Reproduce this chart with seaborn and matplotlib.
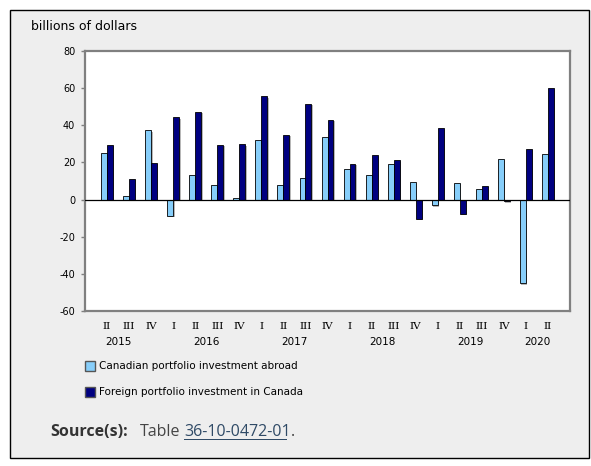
import matplotlib
matplotlib.use("Agg")
import matplotlib.pyplot as plt
import matplotlib.patheffects as pe
from matplotlib.patches import Rectangle
import pandas as pd
import seaborn as sns

# Quarterly flows, billions of dollars (2015 Q2 to 2020 Q2)
quarters = ["II", "III", "IV",
            "I", "II", "III", "IV",
            "I", "II", "III", "IV",
            "I", "II", "III", "IV",
            "I", "II", "III", "IV",
            "I", "II"]
years = ["2015", "2016", "2017", "2018", "2019", "2020"]
year_centres = [0.5, 4.5, 8.5, 12.5, 16.5, 19.5]

abroad = [25.2, 2.1, 37.3, -8.8, 13.1, 8.1, 0.7, 32.0, 7.9, 11.5, 33.9,
          16.4, 13.3, 19.1, 9.4, -3.1, 9.0, 5.8, 21.6, -45.0, 24.3]
foreign = [29.4, 11.3, 19.8, 44.3, 47.4, 29.4, 29.7, 55.7, 34.8, 51.5, 42.9,
           19.1, 23.8, 21.2, -10.3, 38.4, -7.6, 7.4, -1.0, 27.4, 60.0]

series = ["Canadian portfolio investment abroad",
          "Foreign portfolio investment in Canada"]
colours = ["#87CEFA", "#000080"]

W, H = 591, 466


def main():
    sns.set_theme(style="white")
    plt.rcParams["font.family"] = ["DejaVu Sans"]
    plt.rcParams["text.color"] = "black"
    plt.rcParams["xtick.color"] = "black"
    plt.rcParams["ytick.color"] = "black"

    periods = list(range(len(quarters)))
    df = pd.DataFrame({
        "period": periods * 2,
        "value": abroad + foreign,
        "series": [series[0]] * len(abroad) + [series[1]] * len(foreign),
    })

    fig = plt.figure(figsize=(W / 100, H / 100), dpi=100, facecolor="white")

    # Grey panel with a black border
    fig.patches.append(Rectangle((10 / W, 1 - 458 / H), 579 / W, 448 / H,
                                 transform=fig.transFigure, facecolor="#EEEEEE",
                                 edgecolor="black", linewidth=1, zorder=-1))

    ax = fig.add_axes([85 / W, 1 - 311 / H, 485 / W, 260 / H])
    ax.set_facecolor("white")

    sns.barplot(data=df, x="period", y="value", hue="series", order=periods,
                hue_order=series, palette=colours, width=0.54, dodge=True,
                edgecolor="black", linewidth=0.6, saturation=1, legend=False,
                ax=ax)

    shadow = [pe.SimplePatchShadow(offset=(1, -1), shadow_rgbFace="#888888",
                                   alpha=0.6), pe.Normal()]
    for bar in ax.patches:
        bar.set_path_effects(shadow)

    ax.axhline(0, color="black", linewidth=0.9, zorder=5)

    ax.set_xlim(-1, 21)
    ax.set_ylim(-60, 80)
    ax.set_yticks(range(-60, 81, 20))
    ax.set_yticklabels([str(v) for v in range(-60, 81, 20)], fontsize=7)
    ax.set_xticks(periods)
    ax.set_xticklabels(quarters, family="DejaVu Serif", fontsize=7.5)
    ax.set_xlabel("")
    ax.set_ylabel("")

    ax.tick_params(axis="y", direction="out", length=3, width=1,
                   color="#808080", labelcolor="black", pad=4, left=True)
    ax.tick_params(axis="x", length=0, pad=8, labelcolor="black")

    for side in ["left", "top", "right", "bottom"]:
        ax.spines[side].set_visible(True)
        ax.spines[side].set_color("#808080")
        ax.spines[side].set_linewidth(1.6)

    # Year labels under the quarters
    for yr, xc in zip(years, year_centres):
        ax.text(xc, -0.119, yr, transform=ax.get_xaxis_transform(),
                ha="center", va="center", fontsize=7.5, color="black")

    fig.text(31 / W, 1 - 26 / H, "billions of dollars", fontsize=9,
             ha="left", va="center", color="black")

    # Legend, drawn by hand to match the layout
    for i, (name, col) in enumerate(zip(series, colours)):
        yc = 366 + i * 26
        fig.patches.append(Rectangle((85 / W, 1 - (yc + 5) / H), 10 / W, 10 / H,
                                     transform=fig.transFigure, facecolor=col,
                                     edgecolor="#555555", linewidth=1))
        fig.text(99 / W, 1 - yc / H, name, fontsize=7.5, ha="left", va="center",
                 color="black")

    fig.text(50 / W, 1 - 432 / H, "Source(s):", fontsize=11.5,
             fontweight="bold", family="Open Sans", color="#333333",
             ha="left", va="center")
    fig.text(140 / W, 1 - 432 / H, "Table", fontsize=11.5, family="Open Sans",
             color="#444444", ha="left", va="center")
    fig.text(184 / W, 1 - 432 / H, "36-10-0472-01", fontsize=11.5,
             family="Open Sans", color="#2F4A66", ha="left", va="center")
    fig.patches.append(Rectangle((184 / W, 1 - 440 / H), 103 / W, 1 / H,
                                 transform=fig.transFigure, facecolor="#2F4A66",
                                 edgecolor="none"))
    fig.text(291 / W, 1 - 432 / H, ".", fontsize=11.5, family="Open Sans",
             color="#444444", ha="left", va="center")

    fig.savefig("out.png", dpi=100, facecolor="white")


if __name__ == "__main__":
    main()
